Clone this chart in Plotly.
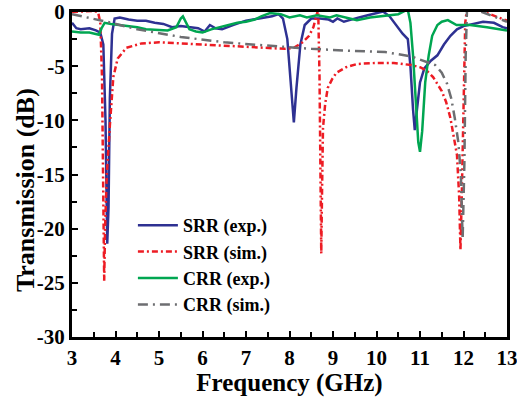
import plotly.graph_objects as go

# ---------------- data ----------------
srr_exp_f = [3.0, 3.1, 3.2, 3.4, 3.55, 3.65, 3.72, 3.77, 3.81, 3.84, 3.87, 3.92, 3.98, 4.1, 4.3, 4.5, 4.7, 4.9,
             5.1, 5.3, 5.5, 5.7, 5.9, 6.05, 6.17, 6.3, 6.45, 6.7, 7.0, 7.3, 7.6, 7.75, 7.85, 7.95, 8.03, 8.1,
             8.16, 8.25, 8.35, 8.5, 8.7, 8.9, 9.0, 9.1, 9.25, 9.4, 9.6, 9.8, 10.0, 10.15, 10.3, 10.45, 10.6,
             10.72, 10.78, 10.84, 10.88, 10.93, 11.0, 11.1, 11.25, 11.4, 11.55, 11.7, 11.85, 12.0, 12.2,
             12.45, 12.7, 12.9, 13.0]
srr_exp_db = [-1.0, -1.5, -1.6, -1.5, -1.7, -1.9, -3.0, -10.0, -21.4, -18.0, -8.0, -2.0, -0.6, -0.5, -0.7, -0.8,
              -0.8, -1.0, -1.1, -1.4, -1.3, -1.4, -1.5, -1.8, -1.2, -1.5, -1.6, -1.2, -0.8, -0.6, -0.4, -0.2,
              -0.6, -2.5, -7.0, -10.2, -7.0, -3.0, -1.2, -0.6, -0.6, -0.7, -0.9, -0.6, -0.9, -0.7, -0.5, -0.3,
              -0.1, 0.05, -0.4, -1.2, -2.0, -2.5, -5.0, -9.0, -10.9, -9.0, -6.5, -5.2, -4.5, -4.0, -3.0, -2.2,
              -1.6, -1.3, -1.1, -0.9, -1.0, -1.4, -1.5]

srr_sim_f = [3.0, 3.3, 3.5, 3.6, 3.65, 3.69, 3.72, 3.74, 3.76, 3.8, 3.87, 3.95, 4.05, 4.25, 4.6, 5.0, 5.5,
             6.0, 6.5, 7.0, 7.5, 7.9, 8.1, 8.3, 8.45, 8.55, 8.62, 8.66, 8.69, 8.71, 8.73, 8.75, 8.77, 8.82,
             8.88, 8.98, 9.08, 9.3, 9.55, 10.0, 10.4, 10.8, 11.0, 11.15, 11.3, 11.5, 11.6, 11.7, 11.78, 11.85,
             11.9, 11.93, 11.96, 12.0, 12.04, 12.08, 12.15, 12.35, 12.6, 12.8, 13.0]
srr_sim_db = [0.0, 0.1, 0.1, 0.0, -1.0, -6.0, -15.0, -24.8, -20.0, -15.0, -10.5, -6.0, -4.3, -3.3, -2.9, -2.8,
              -2.9, -3.0, -3.1, -3.2, -3.3, -3.4, -3.3, -2.8, -2.2, -1.4, -0.3, 0.2, -6.0, -16.0, -22.3, -16.0,
              -10.7, -8.5, -7.0, -6.2, -5.6, -5.1, -4.8, -4.7, -4.7, -4.9, -5.1, -5.4, -6.0, -7.3, -8.3, -9.8,
              -11.5, -13.2, -17.0, -22.0, -17.0, -7.0, -1.0, 0.3, 0.3, 0.2, -0.2, -0.5, -0.8]

crr_exp_f = [3.0, 3.2, 3.4, 3.55, 3.62, 3.68, 3.75, 3.9, 4.1, 4.3, 4.5, 4.7, 5.0, 5.2, 5.4, 5.5, 5.55, 5.62,
             5.7, 5.85, 6.0, 6.2, 6.4, 6.6, 6.8, 7.0, 7.2, 7.35, 7.55, 7.8, 8.0, 8.24, 8.4, 8.63, 8.93, 9.08,
             9.3, 9.55, 9.85, 10.1, 10.3, 10.5, 10.65, 10.72, 10.78, 10.84, 10.9, 10.96, 11.0, 11.05, 11.12,
             11.2, 11.28, 11.4, 11.5, 11.64, 11.84, 12.15, 12.54, 13.0]
crr_exp_db = [-1.8, -1.9, -1.9, -2.0, -2.1, -1.5, -1.0, -1.1, -1.2, -1.3, -1.4, -1.6, -1.7, -1.7, -1.4, -0.6,
              -0.4, -1.0, -1.6, -1.8, -1.9, -1.6, -1.4, -1.2, -1.0, -0.9, -0.7, -0.4, -0.1, -0.2, -0.5, -0.3,
              -0.5, -0.3, -0.5, -0.3, -0.5, -0.75, -0.5, -0.4, -0.3, -0.2, 0.1, 0.2, -1.0, -4.0, -8.0, -12.0,
              -12.9, -11.0, -6.5, -4.0, -2.2, -1.2, -0.9, -0.75, -1.2, -1.2, -1.4, -1.7]

crr_sim_f = [3.0, 3.8, 4.5, 5.5, 6.5, 7.5, 8.5, 9.5, 10.2, 10.8, 11.1, 11.35, 11.5, 11.62, 11.72, 11.8,
             11.88, 11.94, 11.98, 12.02, 12.05, 12.08, 12.3, 12.6, 13.0]
crr_sim_db = [-0.2, -0.9, -1.6, -2.3, -2.8, -3.1, -3.4, -3.6, -3.7, -4.1, -4.5, -4.9, -5.6, -6.6, -8.0, -9.8,
              -12.0, -15.0, -21.0, -14.0, -4.0, 0.2, 0.2, -0.3, -0.9]

x_ticks = [3, 4, 5, 6, 7, 8, 9, 10, 11, 12, 13]
y_ticks = [0, -5, -10, -15, -20, -25, -30]
y_tick_text = ["0", "-5", "-10", "-15", "-20", "-25", "-30"]

# ---------------- figure ----------------
FONT = "Liberation Serif, Times New Roman, Times, serif"

fig = go.Figure()
fig.add_trace(go.Scatter(x=srr_exp_f, y=srr_exp_db, mode="lines", name="SRR (exp.)",
                         line=dict(color="#2E3192", width=2.5)))
fig.add_trace(go.Scatter(x=srr_sim_f, y=srr_sim_db, mode="lines", name="SRR (sim.)",
                         line=dict(color="#ED1C24", width=2.5, dash="6px,3px,2px,3px")))
fig.add_trace(go.Scatter(x=crr_exp_f, y=crr_exp_db, mode="lines", name="CRR (exp.)",
                         line=dict(color="#00A651", width=2.5)))
fig.add_trace(go.Scatter(x=crr_sim_f, y=crr_sim_db, mode="lines", name="CRR (sim.)",
                         line=dict(color="#6D6E71", width=2.5, dash="10px,5px,2px,5px")))

axis_common = dict(showline=True, linecolor="black", linewidth=3, mirror=True,
                   ticks="inside", ticklen=6, tickwidth=2, tickcolor="black",
                   showgrid=False, zeroline=False, automargin=False,
                   ticklabeloverflow="allow",
                   tickfont=dict(family=FONT, size=21, color="black", weight="bold"))

fig.update_xaxes(range=[3, 13], tickvals=x_ticks,
                 minor=dict(ticks="inside", ticklen=5, tickwidth=2, tickcolor="black", dtick=0.5, tick0=3),
                 title=dict(text="Frequency (GHz)", font=dict(family=FONT, size=25, color="black", weight="bold"),
                            standoff=2),
                 **axis_common)
fig.update_yaxes(range=[-30, 0], tickvals=y_ticks, ticktext=y_tick_text,
                 minor=dict(ticks="inside", ticklen=5, tickwidth=2, tickcolor="black", dtick=2.5, tick0=0),
                 **axis_common)

fig.add_annotation(text="Transmission (dB)", textangle=-90, showarrow=False,
                   xref="paper", yref="paper", x=-0.108, y=0.452, xanchor="center", yanchor="middle",
                   font=dict(family=FONT, size=26, color="black", weight="bold"))

fig.update_layout(
    width=517, height=397,
    margin=dict(l=72, r=10, t=12, b=60),
    paper_bgcolor="white", plot_bgcolor="white",
    showlegend=True,
    legend=dict(x=0.14, y=0.4, xanchor="left", yanchor="top",
                bgcolor="rgba(0,0,0,0)", borderwidth=0, itemwidth=40,
                font=dict(family=FONT, size=18, color="black", weight="bold")),
)

fig.write_html("out.html")
